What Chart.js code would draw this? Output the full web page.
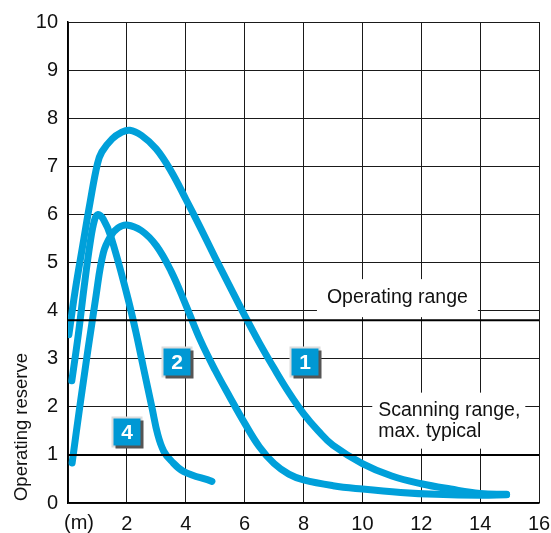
<!DOCTYPE html>
<html>
<head>
<meta charset="utf-8">
<script src="https://cdn.jsdelivr.net/npm/chart.js@4.4.1/dist/chart.umd.min.js"></script>
<style>
html,body{margin:0;padding:0;background:#fff;}
#c{display:block;}
</style>
</head>
<body>
<canvas id="c" width="551" height="533"></canvas>
<script>
// ---- data ----
const xTickValues = [0, 2, 4, 6, 8, 10, 12, 14, 16];
const yTickValues = [0, 1, 2, 3, 4, 5, 6, 7, 8, 9, 10];
const xUnitLabel = "(m)";
const yAxisTitle = "Operating reserve";

const curve1X = [0.03, 0.24, 0.5, 0.75, 1.0, 1.15, 1.5, 1.8, 2.1, 2.5, 3.0, 3.5, 4.0, 4.5, 5.0, 5.5, 6.0, 6.5, 7.0, 7.5, 8.0, 8.5, 9.0, 10.0, 11.0, 12.0, 13.0, 14.0, 14.9];
const curve1Y = [3.5, 4.4, 5.35, 6.25, 7.05, 7.3, 7.57, 7.7, 7.75, 7.64, 7.36, 6.9, 6.32, 5.72, 5.1, 4.5, 3.9, 3.33, 2.8, 2.3, 1.86, 1.5, 1.2, 0.82, 0.56, 0.4, 0.29, 0.2, 0.18];

const curve2X = [0.14, 0.43, 0.95, 1.2, 1.45, 1.7, 2.0, 2.5, 3.0, 3.5, 4.0, 4.5, 5.0, 5.5, 6.0, 6.5, 7.0, 7.5, 8.0, 9.0, 10.0, 11.3, 12.5, 14.0, 14.9];
const curve2Y = [0.83, 2.13, 4.3, 5.2, 5.55, 5.72, 5.78, 5.66, 5.35, 4.82, 4.12, 3.38, 2.76, 2.2, 1.66, 1.17, 0.82, 0.6, 0.48, 0.36, 0.29, 0.22, 0.18, 0.16, 0.17];

const curve4X = [0.13, 0.35, 0.55, 0.75, 0.9, 1.02, 1.2, 1.45, 2.0, 2.3, 2.56, 2.85, 3.05, 3.25, 3.5, 3.92, 4.89];
const curve4Y = [2.54, 3.5, 4.5, 5.4, 5.88, 6.0, 5.9, 5.55, 4.34, 3.57, 2.82, 1.99, 1.42, 1.08, 0.88, 0.66, 0.45];

const operatingRangeY = 3.8;
const scanningRangeY = 1.0;
const lineX = [0, 16];

const curveNames = ["1", "2", "4"];
const curveMarkerX = [8.1, 3.74, 2.04];
const curveMarkerY = [2.91, 2.91, 1.45];

const noteTexts = [["Operating range"], ["Scanning range,", "max. typical"]];
const noteX = [11.19, 10.54];
const noteY = [4.28, 1.92];

// ---- build ----
function pts(xs, ys) { return xs.map((x, i) => ({x: x, y: ys[i]})); }
const BLUE = '#00a0da';
const FONT = '"Liberation Sans", Arial, sans-serif';

const curveStyle = {
  borderColor: BLUE, borderWidth: 7, pointRadius: 0, fill: false,
  tension: 0.4, borderCapStyle: 'round', borderJoinStyle: 'round'
};

const decorations = {
  id: 'decorations',
  beforeDatasetsDraw(chart) {
    const ctx = chart.ctx, xs = chart.scales.x, ys = chart.scales.y;
    ctx.save();
    ctx.font = '19.5px ' + FONT;
    {
      const w = ctx.measureText(noteTexts[0][0]).width;
      const cx = xs.getPixelForValue(noteX[0]), cy = ys.getPixelForValue(noteY[0]);
      ctx.fillStyle = '#fff';
      ctx.fillRect(cx - w / 2 - 10, cy - 18, w + 20, 38);
    }
    {
      const w = Math.max(...noteTexts[1].map(t => ctx.measureText(t).width));
      const lx = xs.getPixelForValue(noteX[1]), ty = ys.getPixelForValue(noteY[1]);
      ctx.fillStyle = '#fff';
      ctx.fillRect(lx - 6, ty - 18, w + 11, 56);
    }
    ctx.restore();
  },
  afterDatasetsDraw(chart) {
    const ctx = chart.ctx, xs = chart.scales.x, ys = chart.scales.y;
    ctx.save();
    ctx.fillStyle = '#111';
    ctx.font = '19.5px ' + FONT;
    ctx.textBaseline = 'middle';
    ctx.textAlign = 'center';
    ctx.fillText(noteTexts[0][0], xs.getPixelForValue(noteX[0]), ys.getPixelForValue(noteY[0]));
    ctx.textAlign = 'left';
    const lx = xs.getPixelForValue(noteX[1]), ty = ys.getPixelForValue(noteY[1]);
    noteTexts[1].forEach((t, i) => ctx.fillText(t, lx, ty + i * 21));

    curveNames.forEach((n, i) => {
      const cx = Math.round(xs.getPixelForValue(curveMarkerX[i]));
      const cy = Math.round(ys.getPixelForValue(curveMarkerY[i]));
      const s = 27;
      const x0 = cx - s / 2 - 1, y0 = cy - s / 2 - 1;
      ctx.fillStyle = '#dcdcdc';
      ctx.fillRect(x0 - 2, y0 - 2, s + 4, s + 4);
      ctx.fillStyle = '#555';
      ctx.fillRect(x0 + 2, y0 + 2, s + 1, s + 1);
      ctx.fillStyle = '#0098d4';
      ctx.fillRect(x0, y0, s, s);
      ctx.fillStyle = '#fff';
      ctx.font = 'bold 21px ' + FONT;
      ctx.textAlign = 'center';
      ctx.textBaseline = 'middle';
      ctx.fillText(n, x0 + s / 2, y0 + s / 2 + 1);
    });
    ctx.restore();
  },
  afterDraw(chart) {
    const ctx = chart.ctx, xs = chart.scales.x, ys = chart.scales.y;
    ctx.save();
    ctx.fillStyle = '#111';
    ctx.font = '20px ' + FONT;
    ctx.textAlign = 'center';
    ctx.textBaseline = 'middle';
    ctx.fillText(xUnitLabel, xs.getPixelForValue(0) + 11, chart.chartArea.bottom + 20);
    ctx.translate(22, ys.getPixelForValue(1.58));
    ctx.rotate(-Math.PI / 2);
    ctx.font = '18.5px ' + FONT;
    ctx.fillText(yAxisTitle, 0, 0);
    ctx.restore();
  }
};

new Chart(document.getElementById('c'), {
  type: 'line',
  data: {
    datasets: [
      {data: pts(lineX, [operatingRangeY, operatingRangeY]), borderColor: '#000', borderWidth: 2, pointRadius: 0, tension: 0},
      {data: pts(lineX, [scanningRangeY, scanningRangeY]), borderColor: '#000', borderWidth: 2, pointRadius: 0, tension: 0},
      Object.assign({label: curveNames[0], data: pts(curve1X, curve1Y)}, curveStyle),
      Object.assign({label: curveNames[1], data: pts(curve2X, curve2Y)}, curveStyle),
      Object.assign({label: curveNames[2], data: pts(curve4X, curve4Y)}, curveStyle)
    ]
  },
  options: {
    responsive: false,
    animation: false,
    devicePixelRatio: 1,
    layout: {padding: {left: 0, top: 19, right: 0, bottom: 0}},
    plugins: {legend: {display: false}, tooltip: {enabled: false}},
    scales: {
      x: {
        type: 'linear', min: 0, max: 16,
        afterBuildTicks(s) { s.ticks = xTickValues.map(v => ({value: v})); },
        afterFit(s) { s.height = 30; s.paddingRight = 12; s.paddingLeft = 0; },
        grid: {color: '#1a1a1a', lineWidth: 1, drawTicks: false},
        border: {color: '#000', width: 1.5},
        ticks: {
          padding: 9, color: '#111', font: {family: FONT, size: 20},
          maxRotation: 0, autoSkip: false,
          callback: v => (v === 0 ? '' : String(v))
        }
      },
      y: {
        min: 0, max: 10,
        afterBuildTicks(s) { s.ticks = yTickValues.map(v => ({value: v})); },
        afterFit(s) { s.width = 68; },
        grid: {color: '#1a1a1a', lineWidth: 1, drawTicks: false},
        border: {color: '#000', width: 1.5},
        ticks: {padding: 10, color: '#111', font: {family: FONT, size: 20}, autoSkip: false}
      }
    }
  },
  plugins: [decorations]
});
</script>
</body>
</html>
